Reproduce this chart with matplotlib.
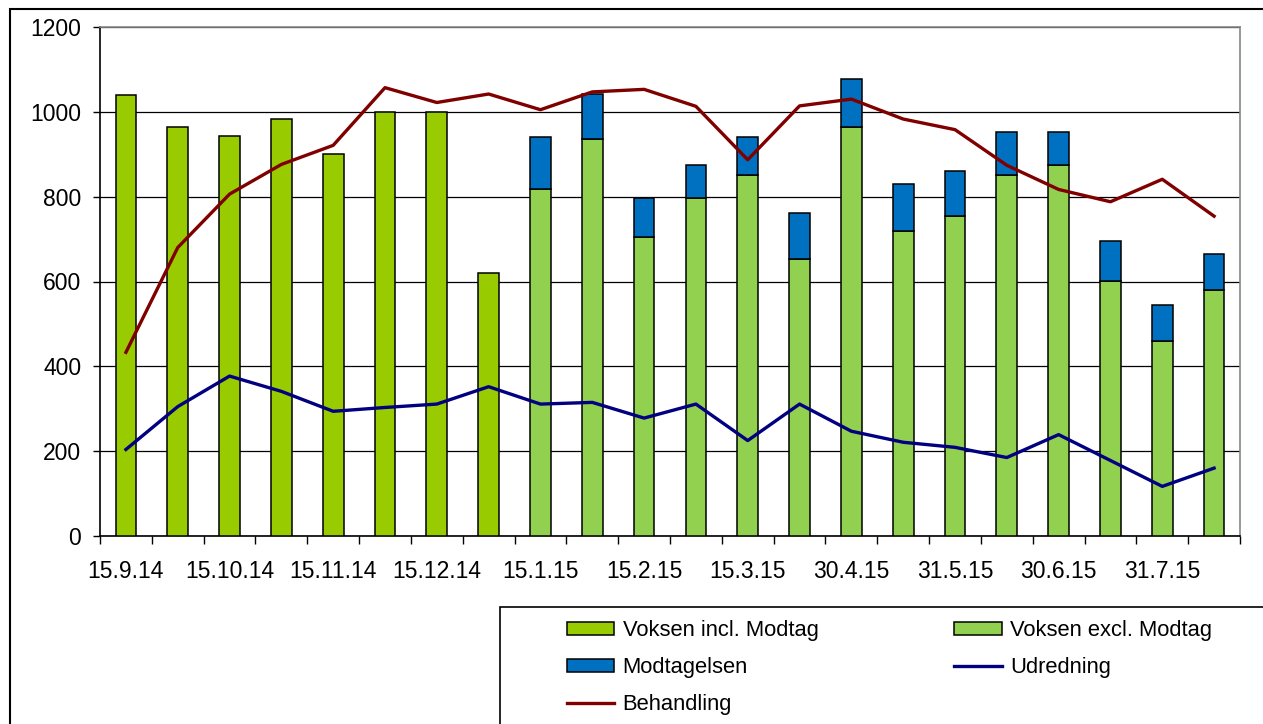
import numpy as np
import matplotlib
matplotlib.use("Agg")
import matplotlib.pyplot as plt
from matplotlib.patches import Rectangle

# -----------------------------
# DATA
# -----------------------------
tick_labels = [
    "15.9.14", "15.10.14", "15.11.14", "15.12.14", "15.1.15", "15.2.15",
    "15.3.15", "30.4.15", "31.5.15", "30.6.15", "31.7.15",
]

# one value per period (22 periods), 0 = no bar
voksen_incl = [1040, 965, 944, 983, 900, 1000, 1000, 620,
               0, 0, 0, 0, 0, 0, 0, 0, 0, 0, 0, 0, 0, 0]
voksen_excl = [0, 0, 0, 0, 0, 0, 0, 0,
               817, 935, 706, 797, 850, 654, 965, 719, 754, 852, 874, 601, 459, 579]
modtagelsen = [0, 0, 0, 0, 0, 0, 0, 0,
               123, 108, 91, 78, 90, 108, 112, 112, 107, 101, 79, 95, 86, 87]
udredning = [204, 305, 377, 341, 294, 303, 311, 352, 311, 315, 278,
             311, 225, 311, 247, 221, 209, 185, 239, 178, 117, 160]
behandling = [433, 680, 806, 876, 921, 1057, 1022, 1042, 1005, 1047, 1053,
              1013, 887, 1014, 1030, 983, 958, 874, 817, 788, 841, 754]

series_labels = ["Voksen incl. Modtag", "Voksen excl. Modtag", "Modtagelsen",
                 "Udredning", "Behandling"]


def make_chart():
    plt.rcParams["font.family"] = ["Liberation Sans", "DejaVu Sans"]
    W, H = 1263, 724

    fig = plt.figure(figsize=(W / 100, H / 100), dpi=100)
    ax = fig.add_axes([100 / W, 1 - 536 / H, (1240 - 100) / W, (536 - 27) / H])

    x = np.arange(len(behandling))
    incl = np.array(voksen_incl, dtype=float)
    excl = np.array(voksen_excl, dtype=float)
    modt = np.array(modtagelsen, dtype=float)
    width = 0.4

    # --- bars ---
    m1 = incl > 0
    b_incl = ax.bar(x[m1], incl[m1], width, color="#99CC00", edgecolor="black",
                    linewidth=1.1, zorder=3)
    m2 = excl > 0
    b_excl = ax.bar(x[m2], excl[m2], width, color="#92D050", edgecolor="black",
                    linewidth=1.1, zorder=3)
    b_modt = ax.bar(x[m2], modt[m2], width, bottom=excl[m2], color="#0070C0",
                    edgecolor="black", linewidth=1.1, zorder=3)

    # --- lines ---
    l_udr, = ax.plot(x, udredning, color="#000080", linewidth=2.4, zorder=4)
    l_beh, = ax.plot(x, behandling, color="#800000", linewidth=2.4, zorder=4)

    # --- axes ---
    ax.set_xlim(-0.5, len(x) - 0.5)
    ax.set_ylim(0, 1200)
    ax.set_yticks(range(0, 1201, 200))
    ax.yaxis.grid(True, color="black", linewidth=0.9, zorder=0)
    ax.set_axisbelow(True)

    ax.set_xticks(np.arange(0, len(x), 2))
    ax.set_xticklabels(tick_labels)
    ax.set_xticks(np.arange(-0.5, len(x), 1), minor=True)
    ax.tick_params(axis="x", which="major", length=0, pad=17.5, labelsize=16.5)
    ax.tick_params(axis="x", which="minor", length=6, width=1, direction="out")
    ax.tick_params(axis="y", length=5, width=1, pad=8.5, labelsize=16.5)

    for side in ["top", "right"]:
        ax.spines[side].set_color("#888888")
        ax.spines[side].set_linewidth(1.2)
    for side in ["left", "bottom"]:
        ax.spines[side].set_color("black")
        ax.spines[side].set_linewidth(1.2)

    # --- outer chart border and legend box (cropped by image edge) ---
    fig.patches.append(Rectangle((10 / W, -0.2), 1.2, 1.2 - 9 / H, transform=fig.transFigure,
                                 fill=False, edgecolor="black", linewidth=1.5))
    fig.patches.append(Rectangle((500 / W, -0.2), 1.0, 0.2 + 1 - 607 / H,
                                 transform=fig.transFigure, fill=False,
                                 edgecolor="black", linewidth=1.2))

    handles = [b_incl, b_modt, l_beh, b_excl, l_udr]
    labels = [series_labels[0], series_labels[2], series_labels[4],
              series_labels[1], series_labels[3]]
    fig.legend(handles, labels, loc="upper left",
               bbox_to_anchor=(567 / W, 1 - 620 / H), ncol=2, frameon=False,
               fontsize=15.8, handlelength=2.15, handleheight=0.55,
               handletextpad=0.38, columnspacing=6.2, labelspacing=0.74,
               borderpad=0, borderaxespad=0)

    fig.savefig("out.png", dpi=100)
    plt.close(fig)


def main():
    make_chart()


if __name__ == "__main__":
    main()
